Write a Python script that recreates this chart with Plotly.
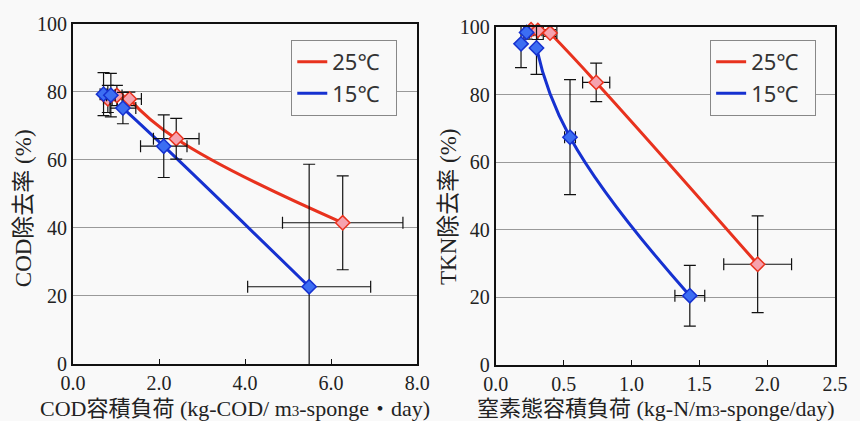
import plotly.graph_objects as go

# ---- Data: COD (left panel) ----
cod25_x = [0.81, 1.02, 1.31, 2.40, 6.27]
cod25_y = [77.9, 78.9, 77.9, 66.2, 41.5]
cod25_xerr = [0.10, 0.12, 0.28, 0.53, 1.40]
cod25_yerr = [4.0, 3.0, 2.0, 6.0, 13.8]
cod25_fit_x = [1.31, 2.40, 6.27]
cod25_fit_y = [77.9, 66.2, 41.5]

cod15_x = [0.71, 0.88, 1.16, 2.11, 5.49]
cod15_y = [79.3, 79.0, 75.2, 64.0, 22.7]
cod15_xerr = [0.08, 0.10, 0.30, 0.54, 1.43]
cod15_yerr = [6.3, 6.4, 4.6, 9.2, 36.0]
cod15_fit_x = [1.16, 2.11, 5.49]
cod15_fit_y = [75.2, 64.0, 22.7]

# ---- Data: TKN (right panel) ----
tkn25_x = [0.26, 0.31, 0.40, 0.74, 1.93]
tkn25_y = [99.2, 99.0, 98.2, 83.6, 29.8]
tkn25_xerr = [0.02, 0.03, 0.05, 0.10, 0.25]
tkn25_yerr = [1.0, 2.7, 1.0, 5.7, 14.3]
tkn25_fit_x = [0.40, 0.74, 1.93]
tkn25_fit_y = [98.2, 83.6, 29.8]

tkn15_x = [0.186, 0.227, 0.30, 0.547, 1.43]
tkn15_y = [95.0, 98.4, 93.8, 67.4, 20.5]
tkn15_xerr = [0.0, 0.02, 0.0, 0.04, 0.11]
tkn15_yerr = [7.0, 2.0, 7.8, 17.0, 9.0]
tkn15_fit_x = [0.30, 0.547, 1.43]
tkn15_fit_y = [93.8, 67.4, 20.5]

series_names = ["25℃\u00a0\u00a0", "15℃\u00a0\u00a0"]
y_ticks = [0, 20, 40, 60, 80, 100]
cod_x_ticks = [0.0, 2.0, 4.0, 6.0, 8.0]
tkn_x_ticks = [0.0, 0.5, 1.0, 1.5, 2.0, 2.5]

RED = "#e8321e"
BLUE = "#1631d0"
RED_FILL = "#f6a2ae"
BLUE_FILL = "#3c6ef2"

W, H = 860, 421
L, R, T, B = 73, 12, 20, 56
PW, PH = W - L - R, H - T - B


def px(x):
    return (x - L) / PW


def py(y):
    return (H - B - y) / PH


fig = go.Figure()


def add_panel(xa, ya, legend, fit25, fit15, d25, d15, clip):
    fig.add_trace(go.Scatter(x=fit25[0], y=fit25[1], mode="lines", name=series_names[0],
                             line=dict(color=RED, width=3, shape="spline", smoothing=1.3),
                             xaxis=xa, yaxis=ya, legend=legend, cliponaxis=True))
    fig.add_trace(go.Scatter(x=fit15[0], y=fit15[1], mode="lines", name=series_names[1],
                             line=dict(color=BLUE, width=3, shape="spline", smoothing=1.3),
                             xaxis=xa, yaxis=ya, legend=legend, cliponaxis=True))
    for d, fill, edge in [(d25, RED_FILL, RED), (d15, BLUE_FILL, BLUE)]:
        fig.add_trace(go.Scatter(
            x=d[0], y=d[1], mode="markers", showlegend=False,
            marker=dict(symbol="diamond", size=11, color=fill, line=dict(color=edge, width=1.5)),
            error_x=dict(type="data", array=d[2], color="#111", thickness=1.2, width=6),
            error_y=dict(type="data", array=d[3], color="#111", thickness=1.2, width=6),
            xaxis=xa, yaxis=ya, cliponaxis=clip))


add_panel("x", "y", "legend",
          (cod25_fit_x, cod25_fit_y), (cod15_fit_x, cod15_fit_y),
          (cod25_x, cod25_y, cod25_xerr, cod25_yerr),
          (cod15_x, cod15_y, cod15_xerr, cod15_yerr), True)
add_panel("x2", "y2", "legend2",
          (tkn25_fit_x, tkn25_fit_y), (tkn15_fit_x, tkn15_fit_y),
          (tkn25_x, tkn25_y, tkn25_xerr, tkn25_yerr),
          (tkn15_x, tkn15_y, tkn15_xerr, tkn15_yerr), False)

tickfont = dict(family="Liberation Serif, Noto Sans CJK JP", size=20, color="#222")
axis_common = dict(showline=True, linecolor="#111", linewidth=2, mirror=True,
                   tickfont=tickfont, zeroline=False)

legend_common = dict(xanchor="left", yanchor="top", bgcolor="#f9f9f9",
                     bordercolor="#888", borderwidth=1,
                     font=dict(family="Noto Sans, Open Sans", size=22, color="#333"),
                     itemwidth=30)

fig.update_layout(
    width=W, height=H,
    margin=dict(l=L, r=R, t=T, b=B),
    paper_bgcolor="#f9f9f9", plot_bgcolor="#f9f9f9",
    xaxis=dict(domain=[0, px(423)], range=[0, 8], tickvals=cod_x_ticks,
               ticktext=[f"{v:.1f}" for v in cod_x_ticks], showgrid=False,
               ticks="inside", ticklen=5, tickcolor="#111", anchor="y", **axis_common),
    yaxis=dict(domain=[py(364), py(20.7)], range=[0, 100], tickvals=y_ticks,
               showgrid=True, gridcolor="#9a9a9a", gridwidth=1, ticks="", anchor="x",
               **axis_common),
    xaxis2=dict(domain=[px(503), px(848)], range=[0, 2.5], tickvals=tkn_x_ticks,
                ticktext=[f"{v:.1f}" for v in tkn_x_ticks], showgrid=False,
                ticks="inside", ticklen=5, tickcolor="#111", anchor="y2", **axis_common),
    yaxis2=dict(domain=[py(365), py(24)], range=[0, 100], tickvals=y_ticks,
                showgrid=True, gridcolor="#9a9a9a", gridwidth=1, ticks="", anchor="x2",
                **axis_common),
    legend=dict(x=px(295), y=py(37), **legend_common),
    legend2=dict(x=px(721), y=py(37), **legend_common),
    showlegend=True,
)

title_font = dict(family="Liberation Serif, Noto Sans CJK JP", size=22, color="#222")
ytitle_font = dict(family="Liberation Serif, Noto Sans CJK JP", size=23, color="#222")
m3 = "m<span style='font-size:15px'>3</span>"
annotations = [
    dict(text=f"COD容積負荷 (kg-COD/ {m3}-sponge・day)", x=px(238), y=py(409), font=title_font),
    dict(text=f"窒素態容積負荷 (kg-N/{m3}-sponge/day)", x=px(666), y=py(409), font=title_font),
    dict(text="COD除去率 (%)", x=px(23), y=py(207), textangle=-90, font=ytitle_font),
    dict(text="TKN除去率 (%)", x=px(455), y=py(205), textangle=-90, font=ytitle_font),
]
for a in annotations:
    fig.add_annotation(xref="paper", yref="paper", showarrow=False,
                       xanchor="center", yanchor="middle", **a)

fig.write_html("out.html")
